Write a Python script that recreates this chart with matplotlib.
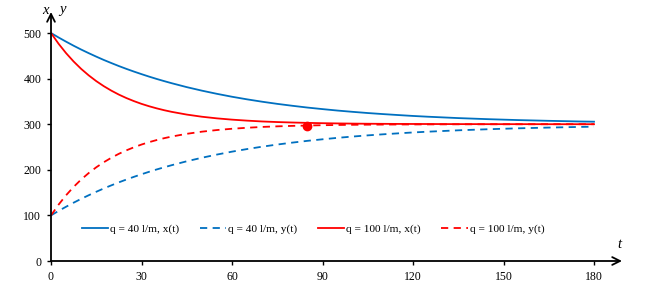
import matplotlib
matplotlib.use("Agg")
import matplotlib.pyplot as plt

plt.rcParams['font.family'] = ['Liberation Serif', 'DejaVu Serif']

t = [0, 2.5, 5, 7.5, 10, 12.5, 15, 17.5, 20, 22.5, 25, 27.5, 30, 32.5, 35, 37.5,
     40, 45, 50, 55, 60, 65, 70, 75, 80, 85, 90,
     95, 100, 105, 110, 115, 120, 125, 130, 135, 140, 145, 150, 155, 160, 165,
     170, 175, 180]

x_q40 = [500, 490.2, 481.0, 472.1, 463.7, 455.8, 448.2, 440.9, 434.1, 427.5,
         421.3, 415.4, 409.8, 404.4, 399.3, 394.5, 389.9, 381.3,
         373.6, 366.6, 360.2, 354.5, 349.3, 344.6, 340.4, 336.5, 333.1, 329.9,
         327.1, 324.5, 322.2, 320.1, 318.1, 316.4, 314.9, 313.4, 312.2, 311.0,
         310.0, 309.0, 308.2, 307.4, 306.7, 306.0, 305.5]
y_q40 = [100, 109.8, 119.0, 127.9, 136.3, 144.2, 151.8, 159.1, 165.9, 172.5,
         178.7, 184.6, 190.2, 195.6, 200.7, 205.5, 210.1, 218.7,
         226.4, 233.4, 239.8, 245.5, 250.7, 255.4, 259.6, 263.5, 266.9, 270.1,
         272.9, 275.5, 277.8, 279.9, 281.9, 283.6, 285.1, 286.6, 287.8, 289.0,
         290.0, 291.0, 291.8, 292.6, 293.3, 294.0, 294.5]
x_q100 = [500, 476.5, 455.8, 437.5, 421.3, 407.1, 394.5, 383.4, 373.6, 364.9,
          357.3, 350.6, 344.6, 339.4, 334.8, 330.7, 327.1, 321.1,
          316.4, 312.8, 310.0, 307.8, 306.0, 304.7, 303.7, 302.9, 302.2, 301.7,
          301.3, 301.0, 300.8, 300.6, 300.5, 300.4, 300.3, 300.2, 300.2, 300.1,
          300.1, 300.1, 300.1, 300.0, 300.0, 300.0, 300.0]
y_q100 = [100, 123.5, 144.2, 162.5, 178.7, 192.9, 205.5, 216.6, 226.4, 235.1,
          242.7, 249.4, 255.4, 260.6, 265.2, 269.3, 272.9, 278.9,
          283.6, 287.2, 290.0, 292.2, 294.0, 295.3, 296.3, 297.1, 297.8, 298.3,
          298.7, 299.0, 299.2, 299.4, 299.5, 299.6, 299.7, 299.8, 299.8, 299.9,
          299.9, 299.9, 299.9, 300.0, 300.0, 300.0, 300.0]

marker_t = [85]
marker_y = [297]

x_ticks = [0, 30, 60, 90, 120, 150, 180]
y_ticks = [0, 100, 200, 300, 400, 500]

labels = ['q = 40 l/m, x(t)', 'q = 40 l/m, y(t)', 'q = 100 l/m, x(t)', 'q = 100 l/m, y(t)']

blue = '#0070C0'
red = '#FF0000'

fig = plt.figure(figsize=(6.55, 2.9), dpi=100)
W, H = 655, 290
x0px, y0px = 51, 261
xend_px, ytop_px = 622, 12
px_per_t = (594 - 51) / 180
px_per_v = (261 - 33) / 500
ax = fig.add_axes([x0px / W, (H - y0px) / H, (xend_px - x0px) / W, (y0px - ytop_px) / H])
xmax = (xend_px - x0px) / px_per_t
ymax = (y0px - ytop_px) / px_per_v
ax.set_xlim(0, xmax)
ax.set_ylim(0, ymax)

lw = 1.3
dash = (0, (4, 3))
ax.plot(t, x_q40, color=blue, lw=lw, label=labels[0])
ax.plot(t, y_q40, color=blue, lw=lw, ls=dash, label=labels[1])
ax.plot(t, x_q100, color=red, lw=lw, label=labels[2])
ax.plot(t, y_q100, color=red, lw=lw, ls=dash, label=labels[3])
ax.plot(marker_t, marker_y, 'o', color=red, ms=6, zorder=5)

for s in ax.spines.values():
    s.set_visible(False)

ax.annotate('', xy=(xmax, 0), xytext=(0, 0),
            arrowprops=dict(arrowstyle='->', color='black', lw=1.3, shrinkA=0, shrinkB=0,
                            mutation_scale=14),
            annotation_clip=False)
ax.annotate('', xy=(0, ymax), xytext=(0, 0),
            arrowprops=dict(arrowstyle='->', color='black', lw=1.3, shrinkA=0, shrinkB=0,
                            mutation_scale=14),
            annotation_clip=False)

ax.set_xticks(x_ticks)
ax.set_yticks(y_ticks)
ax.tick_params(axis='both', direction='out', length=3, width=1, color='black',
               labelsize=8.5, pad=4)

fig.text(45 / W, 1 - 10 / H, 'x', style='italic', fontsize=10.5, ha='center', va='center')
fig.text(62 / W, 1 - 10 / H, 'y', style='italic', fontsize=10.5, ha='center', va='center')
fig.text(619 / W, 1 - 245 / H, 't', style='italic', fontsize=10.5, ha='center', va='center')

fig.legend(loc='center', bbox_to_anchor=(313 / W, 1 - 229 / H), ncol=4, frameon=False,
           fontsize=8.2, handlelength=2.3, handletextpad=0.2, columnspacing=1.8)

fig.savefig('out.png', dpi=100)
